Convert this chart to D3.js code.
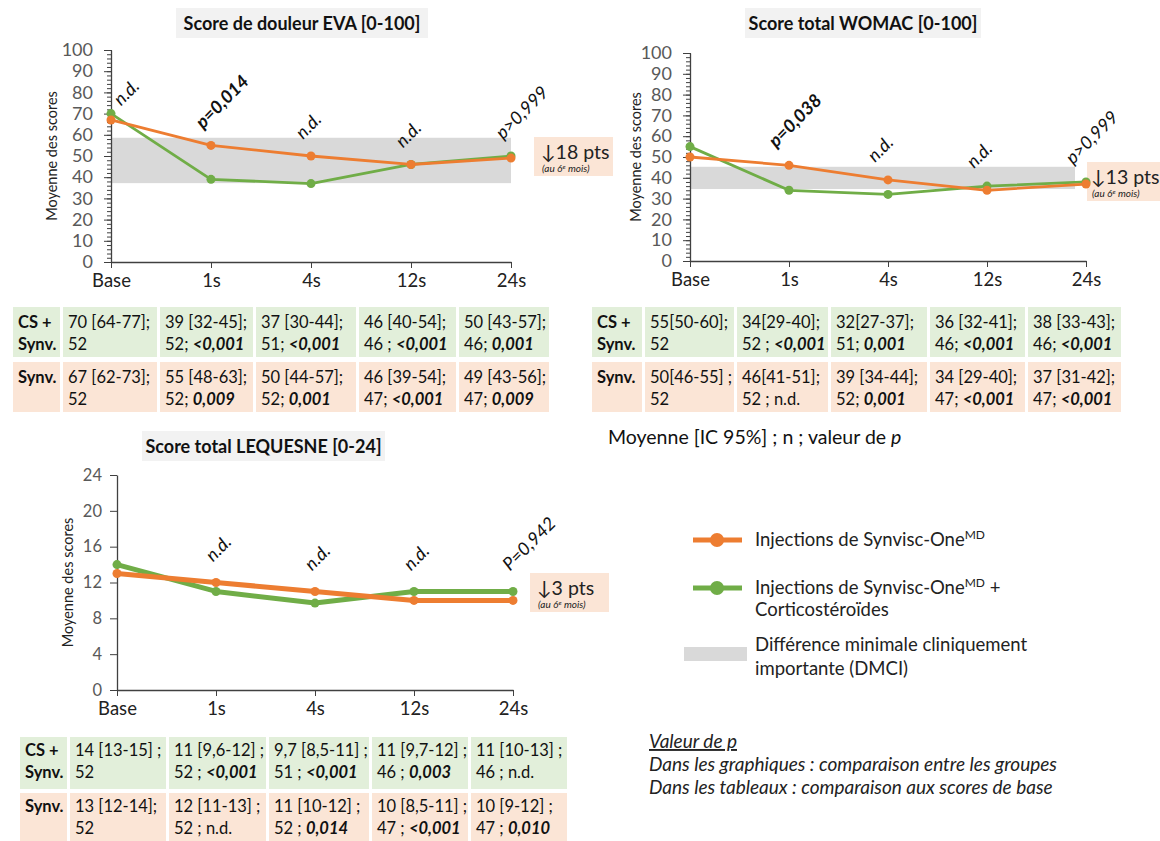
<!DOCTYPE html>
<html>
<head>
<meta charset="utf-8" />
<title>Scores EVA, WOMAC, LEQUESNE</title>
<script src="https://d3js.org/d3.v7.min.js"></script>
<style>
  body { margin: 0; background: #fff; }
  svg { font-family: Lato, "Open Sans", sans-serif; }
</style>
</head>
<body>
<svg id="fig" width="1160" height="841"></svg>
<script>
// ---- data ----
var weeks = ["Base", "1s", "4s", "12s", "24s"];

var evaSynv = [67, 55, 50, 46, 49];
var evaCS = [70, 39, 37, 46, 50];
var evaDmci = [37.2, 58.6];
var evaTicks = [0, 10, 20, 30, 40, 50, 60, 70, 80, 90, 100];
var evaNotes = ["n.d.", "*p=0,014*", "n.d.", "n.d.", "p>0,999"];

var womacSynv = [50, 46, 39, 34, 37];
var womacCS = [55, 34, 32, 36, 38];
var womacDmci = [34.6, 45.3];
var womacTicks = [0, 10, 20, 30, 40, 50, 60, 70, 80, 90, 100];
var womacNotes = ["", "*p=0,038*", "n.d.", "n.d.", "p>0,999"];

var leqSynv = [13, 12, 11, 10, 10];
var leqCS = [14, 11, 9.7, 11, 11];
var leqTicks = [0, 4, 8, 12, 16, 20, 24];
var leqNotes = ["", "n.d.", "n.d.", "n.d.", "P=0,942"];

var evaTabCS = [["70 [64-77];", "52"], ["39 [32-45];", "52; *<0,001*"], ["37 [30-44];", "51; *<0,001*"], ["46 [40-54];", "46 ; *<0,001*"], ["50 [43-57];", "46; *0,001*"]];
var evaTabSynv = [["67 [62-73];", "52"], ["55 [48-63];", "52; *0,009*"], ["50 [44-57];", "52; *0,001*"], ["46 [39-54];", "47; *<0,001*"], ["49 [43-56];", "47; *0,009*"]];
var womacTabCS = [["55[50-60];", "52"], ["34[29-40];", "52 ; *<0,001*"], ["32[27-37];", "51; *0,001*"], ["36 [32-41];", "46; *<0,001*"], ["38 [33-43];", "46; *<0,001*"]];
var womacTabSynv = [["50[46-55] ;", "52"], ["46[41-51];", "52 ; n.d."], ["39 [34-44];", "52; *0,001*"], ["34 [29-40];", "47; *<0,001*"], ["37 [31-42];", "47; *<0,001*"]];
var leqTabCS = [["14 [13-15] ;", "52"], ["11 [9,6-12] ;", "52 ; *<0,001*"], ["9,7 [8,5-11] ;", "51 ; *<0,001*"], ["11 [9,7-12] ;", "46 ; *0,003*"], ["11 [10-13] ;", "46 ; n.d."]];
var leqTabSynv = [["13 [12-14];", "52"], ["12 [11-13] ;", "52 ; n.d."], ["11 [10-12] ;", "52 ; *0,014*"], ["10 [8,5-11] ;", "47 ; *<0,001*"], ["10 [9-12] ;", "47 ; *0,010*"]];

var ORANGE = "#ed7d31", GREEN = "#70ad47", BAND = "#d9d9d9";
var CELL_GREEN = "#e2efda", CELL_PEACH = "#fbe5d6";

var svg = d3.select("#fig");

// text with *bold* parts
function rich(sel, str) {
  str.split("*").forEach(function(part, i) {
    if (!part) return;
    var t = sel.append("tspan").text(part);
    if (i % 2) t.attr("font-weight", "bold").attr("font-style", "italic");
  });
}

function drawChart(c) {
  var g = svg.append("g");
  var x = d3.scalePoint().domain(weeks).range(c.xr);
  var y = d3.scaleLinear().domain(c.dom).range(c.yr);

  // title
  g.append("rect").attr("x", c.title.x).attr("y", c.title.y)
    .attr("width", c.title.w).attr("height", 30).attr("fill", "#f2f2f2");
  g.append("text").attr("x", c.title.x + c.title.w / 2).attr("y", c.title.y + 22)
    .attr("text-anchor", "middle").attr("font-weight", "bold")
    .attr("font-size", "18px").attr("fill", "#111").text(c.title.text);

  // DMCI band
  if (c.band) {
    g.append("rect")
      .attr("x", x(weeks[0]))
      .attr("width", x(weeks[4]) - x(weeks[0]) - c.bandTrim)
      .attr("y", y(c.band[1]))
      .attr("height", y(c.band[0]) - y(c.band[1]))
      .attr("fill", BAND);
  }

  // "pts" box
  var b = g.append("g").attr("transform", "translate(" + (x(weeks[4]) + c.box.dx) + "," + c.box.y + ")");
  b.append("rect").attr("width", 79).attr("height", 39).attr("fill", CELL_PEACH);
  b.append("text").attr("x", c.box.tx).attr("y", 22).attr("font-size", "19.5px").attr("fill", "#222").text(c.box.text);
  var sm = b.append("text").attr("x", c.box.tx + 1).attr("y", 35).attr("font-size", "10px")
    .attr("font-style", "italic").attr("fill", "#222");
  sm.append("tspan").text("(au 6");
  sm.append("tspan").attr("dy", -3).attr("font-size", "6.5px").text("e");
  sm.append("tspan").attr("dy", 3).text(" mois)");

  // y axis
  if (c.minor) {
    g.append("g").attr("transform", "translate(" + c.xr[0] + ",0)")
      .call(d3.axisLeft(y).tickValues(c.minor).tickSize(3).tickSizeOuter(0).tickFormat(""))
      .call(function(s) {
        s.select(".domain").remove();
        s.selectAll("line").attr("stroke", "#404040").attr("x2", -4).attr("x1", 1);
      });
  }
  var ya = g.append("g").attr("transform", "translate(" + c.xr[0] + ",0)")
    .call(d3.axisLeft(y).tickValues(c.ticks).tickSize(7).tickSizeOuter(0).tickPadding(c.ypad));
  ya.select(".domain").attr("stroke", "#404040").attr("stroke-width", 1.3);
  ya.selectAll("line").attr("stroke", "#404040");
  ya.selectAll("text").attr("font-size", c.yfont).attr("fill", "#595959").attr("font-family", "Lato, sans-serif");

  // x axis
  var xa = g.append("g").attr("transform", "translate(0," + c.yr[0] + ")")
    .call(d3.axisBottom(x).tickSize(6).tickSizeOuter(0).tickPadding(6));
  xa.select(".domain").attr("stroke", "#404040").attr("stroke-width", 1.3);
  xa.selectAll("line").attr("stroke", "#404040");
  xa.selectAll("text").attr("font-size", "18.5px").attr("fill", "#222").attr("font-family", "Lato, sans-serif");

  // axis title
  g.append("text")
    .attr("transform", "translate(" + c.ylab + "," + ((c.yr[0] + c.yr[1]) / 2) + ") rotate(-90)")
    .attr("text-anchor", "middle").attr("font-size", "14.5px").attr("fill", "#222")
    .text("Moyenne des scores");

  // series
  var line = d3.line().x(function(d, i) { return x(weeks[i]); }).y(function(d) { return y(d); });
  [[c.cs, GREEN], [c.synv, ORANGE]].forEach(function(s) {
    g.append("path").datum(s[0]).attr("d", line).attr("fill", "none")
      .attr("stroke", s[1]).attr("stroke-width", c.lw).attr("stroke-linejoin", "round");
    g.selectAll(null).data(s[0]).enter().append("circle")
      .attr("cx", function(d, i) { return x(weeks[i]); })
      .attr("cy", function(d) { return y(d); })
      .attr("r", c.r).attr("fill", s[1]);
  });

  // p annotations
  c.notes.forEach(function(n, i) {
    if (!n) return;
    var top = y(Math.max(c.synv[i], c.cs[i]));
    var dx = i === 0 ? c.note.dx0 : c.note.dx;
    var dy = i === 0 ? c.note.dy0 : c.note.dy;
    var t = g.append("text")
      .attr("transform", "translate(" + (x(weeks[i]) + dx) + "," + (top - dy) + ") rotate(-45)")
      .attr("font-size", "18px").attr("font-style", "italic").attr("fill", "#111");
    rich(t, n);
  });
}

function drawTable(rowCS, rowSynv, edges, tops, hs, base) {
  var g = svg.append("g");
  var rows = [[rowCS, CELL_GREEN, ["CS +", "Synv."]], [rowSynv, CELL_PEACH, ["Synv."]]];
  rows.forEach(function(r, ri) {
    var top = tops[ri], h = hs[ri];
    for (var ci = 0; ci < 6; ci++) {
      var x0 = edges[ci], x1 = edges[ci + 1] - 3;
      g.append("rect").attr("x", x0).attr("y", top).attr("width", x1 - x0).attr("height", h).attr("fill", r[1]);
      var lines = ci === 0 ? r[2] : r[0][ci - 1];
      lines.forEach(function(l, li) {
        var t = g.append("text").attr("x", x0 + 5).attr("y", top + base + li * 22)
          .attr("font-size", "16.5px").attr("fill", "#111");
        if (ci === 0) t.attr("font-weight", "bold").text(l);
        else rich(t, l);
      });
    }
  });
}

drawChart({
  xr: [111, 511], yr: [262, 50], dom: [0, 100], ticks: evaTicks, minor: d3.range(0, 101, 2),
  yfont: "18px", ypad: 11, ylab: 57, lw: 2.8, r: 4.5,
  synv: evaSynv, cs: evaCS, band: evaDmci, bandTrim: 0, notes: evaNotes,
  note: { dx0: 10, dy0: 7, dx: -8, dy: 16 },
  title: { x: 176, y: 8, w: 252, text: "Score de douleur EVA [0-100]" },
  box: { dx: 23, y: 137, tx: 7, text: "\u219318 pts" }
});

drawChart({
  xr: [690, 1086], yr: [261, 53], dom: [0, 100], ticks: womacTicks, minor: d3.range(0, 101, 2),
  yfont: "18px", ypad: 11, ylab: 641, lw: 2.8, r: 4.5,
  synv: womacSynv, cs: womacCS, band: womacDmci, bandTrim: 11, notes: womacNotes,
  note: { dx0: 6, dy0: 6, dx: -13, dy: 17 },
  title: { x: 745, y: 8, w: 236, text: "Score total WOMAC [0-100]" },
  box: { dx: 1, y: 162, tx: 4, text: "\u219313 pts" }
});

drawChart({
  xr: [117, 513], yr: [690, 475], dom: [0, 24], ticks: leqTicks, minor: null,
  yfont: "16.5px", ypad: 8, ylab: 73, lw: 5, r: 4.5,
  synv: leqSynv, cs: leqCS, band: null, bandTrim: 0, notes: leqNotes,
  note: { dx0: 6, dy0: 6, dx: -3, dy: 20 },
  title: { x: 142, y: 431, w: 243, text: "Score total LEQUESNE [0-24]" },
  box: { dx: 17, y: 573, tx: 7, text: "\u21933 pts" }
});

drawTable(evaTabCS, evaTabSynv, [13, 63, 160, 256, 359, 459, 552], [307, 362], [50, 50], 21);
drawTable(womacTabCS, womacTabSynv, [592, 645, 737, 831, 930, 1028, 1124], [307, 362], [50, 50], 21);
drawTable(leqTabCS, leqTabSynv, [20, 70, 169, 269, 372, 471, 570], [737, 793], [52, 48], 19);

// caption
var cap = svg.append("text").attr("x", 608).attr("y", 444).attr("font-size", "19.5px").attr("fill", "#111");
cap.append("tspan").text("Moyenne [IC 95%] ; n ; valeur de ");
cap.append("tspan").attr("font-style", "italic").text("p");

// legend
var leg = svg.append("g");
[[ORANGE, 540, ["Injections de Synvisc-One", "MD", ""]], [GREEN, 588, ["Injections de Synvisc-One", "MD", " +"]]].forEach(function(it) {
  leg.append("line").attr("x1", 693).attr("x2", 742).attr("y1", it[1]).attr("y2", it[1])
    .attr("stroke", it[0]).attr("stroke-width", 5);
  leg.append("circle").attr("cx", 717).attr("cy", it[1]).attr("r", 7).attr("fill", it[0]);
  var t = leg.append("text").attr("x", 755).attr("y", it[1] + 6).attr("font-size", "18.5px").attr("fill", "#222");
  t.append("tspan").text(it[2][0]);
  t.append("tspan").attr("dy", -7).attr("font-size", "12px").text(it[2][1]);
  t.append("tspan").attr("dy", 7).text(it[2][2]);
});
leg.append("text").attr("x", 755).attr("y", 616).attr("font-size", "18.5px").attr("fill", "#222").text("Corticostéroïdes");
leg.append("rect").attr("x", 684).attr("y", 647).attr("width", 63).attr("height", 14).attr("fill", BAND);
leg.append("text").attr("x", 755).attr("y", 651).attr("font-size", "18.5px").attr("fill", "#222").text("Différence minimale cliniquement");
leg.append("text").attr("x", 755).attr("y", 675).attr("font-size", "18.5px").attr("fill", "#222").text("importante (DMCI)");

// notes
var notes = svg.append("g").attr("font-size", "19px").attr("font-style", "italic").attr("fill", "#222");
notes.append("text").attr("x", 649).attr("y", 748).attr("text-decoration", "underline").text("Valeur de p");
notes.append("text").attr("x", 649).attr("y", 771).text("Dans les graphiques : comparaison entre les groupes");
notes.append("text").attr("x", 649).attr("y", 794).text("Dans les tableaux : comparaison aux scores de base");
</script>
</body>
</html>
